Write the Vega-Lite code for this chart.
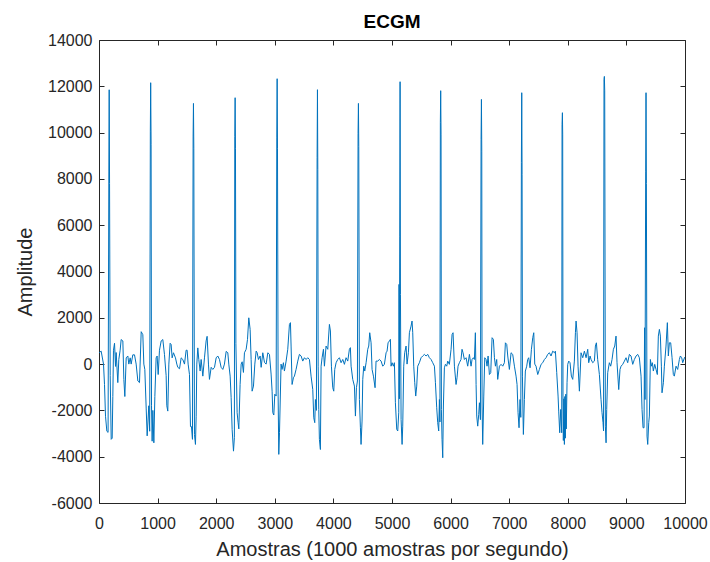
{
  "$schema": "https://vega.github.io/schema/vega-lite/v6.json",
  "width": 586,
  "height": 463,
  "autosize": {"type": "none"},
  "padding": {"left": 99, "top": 40, "right": 25, "bottom": 59},
  "background": "white",
  "title": {"text": "ECGM", "fontSize": 19, "fontWeight": "bold", "font": "Liberation Sans", "color": "#000000", "offset": 0},
  "config": {
    "view": {"stroke": null},
    "axis": {"grid": false, "domainColor": "#262626", "tickColor": "#262626", "labelColor": "#262626", "titleColor": "#262626", "labelFont": "Liberation Sans", "titleFont": "Liberation Sans", "labelFontSize": 16, "titleFontSize": 20, "titleFontWeight": "normal", "tickSize": -5, "domainWidth": 1, "tickWidth": 1, "labelFlush": false}
  },
  "data": {"values": [
    {"s":0,"v":490},{"s":37,"v":560},{"s":77,"v":0},{"s":94,"v":-880},{"s":111,"v":-2250},{"s":134,"v":-2900},{"s":155,"v":-2950},{"s":168,"v":8340},{"s":174,"v":11850},{"s":180,"v":7800},{"s":191,"v":-500},{"s":208,"v":-3250},{"s":225,"v":-3200},{"s":236,"v":-1400},{"s":247,"v":600},{"s":265,"v":900},{"s":282,"v":-100},{"s":293,"v":500},{"s":321,"v":-800},{"s":338,"v":200},{"s":361,"v":600},{"s":378,"v":1060},{"s":407,"v":1000},{"s":424,"v":-660},{"s":441,"v":-1400},{"s":464,"v":270},{"s":492,"v":350},{"s":509,"v":0},{"s":532,"v":270},{"s":549,"v":0},{"s":577,"v":400},{"s":606,"v":400},{"s":634,"v":0},{"s":663,"v":-730},{"s":691,"v":-800},{"s":720,"v":1400},{"s":748,"v":1270},{"s":765,"v":0},{"s":782,"v":-230},{"s":805,"v":-1900},{"s":822,"v":-3100},{"s":850,"v":-1800},{"s":865,"v":-2900},{"s":876,"v":10065},{"s":882,"v":12155},{"s":889,"v":9500},{"s":896,"v":-1800},{"s":907,"v":-3330},{"s":919,"v":-2000},{"s":936,"v":-3400},{"s":953,"v":-1400},{"s":975,"v":270},{"s":992,"v":350},{"s":1010,"v":-450},{"s":1032,"v":600},{"s":1061,"v":1000},{"s":1089,"v":1060},{"s":1117,"v":420},{"s":1146,"v":-500},{"s":1157,"v":-1800},{"s":1174,"v":-2030},{"s":1192,"v":0},{"s":1214,"v":900},{"s":1231,"v":850},{"s":1248,"v":270},{"s":1271,"v":490},{"s":1305,"v":270},{"s":1328,"v":0},{"s":1345,"v":-140},{"s":1374,"v":-200},{"s":1402,"v":270},{"s":1430,"v":200},{"s":1459,"v":0},{"s":1487,"v":600},{"s":1504,"v":600},{"s":1521,"v":0},{"s":1544,"v":-450},{"s":1561,"v":-2700},{"s":1578,"v":-2700},{"s":1595,"v":-3250},{"s":1606,"v":9850},{"s":1612,"v":11261},{"s":1618,"v":9300},{"s":1629,"v":-3040},{"s":1646,"v":-3470},{"s":1658,"v":-2250},{"s":1669,"v":0},{"s":1686,"v":700},{"s":1703,"v":200},{"s":1726,"v":-300},{"s":1743,"v":200},{"s":1772,"v":-520},{"s":1800,"v":270},{"s":1828,"v":1000},{"s":1845,"v":1200},{"s":1868,"v":0},{"s":1885,"v":-660},{"s":1914,"v":-140},{"s":1942,"v":-230},{"s":1971,"v":-140},{"s":1999,"v":270},{"s":2027,"v":350},{"s":2056,"v":200},{"s":2084,"v":-140},{"s":2113,"v":-230},{"s":2141,"v":0},{"s":2170,"v":550},{"s":2198,"v":490},{"s":2215,"v":0},{"s":2238,"v":-520},{"s":2255,"v":-1450},{"s":2272,"v":-2820},{"s":2295,"v":-3760},{"s":2310,"v":-3180},{"s":2317,"v":9820},{"s":2323,"v":11507},{"s":2329,"v":9300},{"s":2336,"v":900},{"s":2357,"v":-2100},{"s":2374,"v":-2530},{"s":2386,"v":-2800},{"s":2408,"v":-880},{"s":2426,"v":0},{"s":2443,"v":100},{"s":2465,"v":-360},{"s":2482,"v":490},{"s":2511,"v":640},{"s":2534,"v":1060},{"s":2556,"v":2000},{"s":2579,"v":1500},{"s":2596,"v":200},{"s":2613,"v":-1170},{"s":2636,"v":-950},{"s":2659,"v":0},{"s":2682,"v":560},{"s":2699,"v":490},{"s":2721,"v":200},{"s":2750,"v":350},{"s":2767,"v":-140},{"s":2795,"v":490},{"s":2824,"v":70},{"s":2852,"v":0},{"s":2881,"v":490},{"s":2909,"v":420},{"s":2937,"v":-430},{"s":2954,"v":-1170},{"s":2966,"v":-2100},{"s":2983,"v":-2200},{"s":3000,"v":-1300},{"s":3023,"v":-1380},{"s":3034,"v":9806},{"s":3040,"v":12328},{"s":3046,"v":9300},{"s":3057,"v":-1380},{"s":3068,"v":-3900},{"s":3080,"v":-2960},{"s":3107,"v":0},{"s":3124,"v":-230},{"s":3147,"v":60},{"s":3164,"v":-300},{"s":3193,"v":130},{"s":3221,"v":640},{"s":3250,"v":1715},{"s":3267,"v":1790},{"s":3278,"v":780},{"s":3295,"v":-880},{"s":3318,"v":-590},{"s":3335,"v":-520},{"s":3363,"v":-230},{"s":3392,"v":130},{"s":3420,"v":420},{"s":3449,"v":350},{"s":3477,"v":130},{"s":3506,"v":275},{"s":3534,"v":200},{"s":3562,"v":275},{"s":3591,"v":200},{"s":3619,"v":-520},{"s":3648,"v":-1100},{"s":3665,"v":-2320},{"s":3682,"v":-2530},{"s":3693,"v":-1530},{"s":3710,"v":-2000},{"s":3722,"v":8916},{"s":3728,"v":11853},{"s":3734,"v":8400},{"s":3740,"v":-90},{"s":3750,"v":-1960},{"s":3761,"v":-3250},{"s":3778,"v":-3690},{"s":3790,"v":-90},{"s":3807,"v":275},{"s":3830,"v":640},{"s":3847,"v":-90},{"s":3875,"v":780},{"s":3904,"v":640},{"s":3932,"v":1715},{"s":3949,"v":1430},{"s":3966,"v":-90},{"s":3989,"v":-1020},{"s":4006,"v":-1170},{"s":4023,"v":-230},{"s":4046,"v":60},{"s":4074,"v":200},{"s":4103,"v":275},{"s":4131,"v":60},{"s":4160,"v":200},{"s":4188,"v":-10},{"s":4216,"v":275},{"s":4245,"v":130},{"s":4273,"v":640},{"s":4290,"v":710},{"s":4302,"v":-90},{"s":4330,"v":-660},{"s":4359,"v":-950},{"s":4376,"v":-2245},{"s":4393,"v":-1020},{"s":4410,"v":-730},{"s":4421,"v":9965},{"s":4427,"v":11261},{"s":4433,"v":9400},{"s":4444,"v":-1530},{"s":4461,"v":-2750},{"s":4472,"v":-3470},{"s":4489,"v":-2460},{"s":4501,"v":-660},{"s":4518,"v":-90},{"s":4535,"v":-300},{"s":4558,"v":60},{"s":4586,"v":640},{"s":4603,"v":780},{"s":4620,"v":1355},{"s":4643,"v":920},{"s":4660,"v":-230},{"s":4683,"v":-520},{"s":4711,"v":-1020},{"s":4728,"v":130},{"s":4757,"v":130},{"s":4785,"v":200},{"s":4814,"v":130},{"s":4842,"v":-90},{"s":4870,"v":-10},{"s":4899,"v":490},{"s":4916,"v":560},{"s":4933,"v":920},{"s":4956,"v":1000},{"s":4973,"v":1070},{"s":4984,"v":-90},{"s":5001,"v":60},{"s":5024,"v":-90},{"s":5041,"v":60},{"s":5058,"v":-1670},{"s":5081,"v":-2820},{"s":5098,"v":-2890},{"s":5115,"v":-2100},{"s":5120,"v":3443},{"s":5126,"v":-1500},{"s":5132,"v":5529},{"s":5138,"v":12198},{"s":5144,"v":3000},{"s":5155,"v":-2390},{"s":5172,"v":-3470},{"s":5183,"v":-2680},{"s":5200,"v":-90},{"s":5217,"v":490},{"s":5240,"v":780},{"s":5257,"v":0},{"s":5280,"v":490},{"s":5297,"v":1355},{"s":5325,"v":1640},{"s":5342,"v":1860},{"s":5354,"v":1355},{"s":5371,"v":-90},{"s":5388,"v":-805},{"s":5405,"v":-1380},{"s":5422,"v":-950},{"s":5439,"v":-90},{"s":5467,"v":60},{"s":5496,"v":275},{"s":5524,"v":350},{"s":5553,"v":420},{"s":5581,"v":350},{"s":5610,"v":420},{"s":5638,"v":275},{"s":5667,"v":200},{"s":5695,"v":60},{"s":5724,"v":-90},{"s":5741,"v":-805},{"s":5763,"v":-1885},{"s":5780,"v":-2530},{"s":5797,"v":-2890},{"s":5809,"v":-1530},{"s":5818,"v":-2500},{"s":5825,"v":10427},{"s":5831,"v":11810},{"s":5837,"v":9900},{"s":5843,"v":-1960},{"s":5854,"v":-3250},{"s":5866,"v":-4045},{"s":5877,"v":-1810},{"s":5894,"v":-160},{"s":5911,"v":-10},{"s":5934,"v":-90},{"s":5951,"v":130},{"s":5979,"v":-10},{"s":6008,"v":640},{"s":6025,"v":1280},{"s":6042,"v":1355},{"s":6065,"v":-90},{"s":6093,"v":-880},{"s":6110,"v":-590},{"s":6127,"v":-90},{"s":6150,"v":60},{"s":6178,"v":200},{"s":6195,"v":640},{"s":6212,"v":490},{"s":6235,"v":200},{"s":6264,"v":275},{"s":6292,"v":-90},{"s":6321,"v":420},{"s":6349,"v":-90},{"s":6366,"v":200},{"s":6389,"v":275},{"s":6406,"v":200},{"s":6423,"v":1355},{"s":6435,"v":-880},{"s":6446,"v":-2245},{"s":6463,"v":-2680},{"s":6480,"v":-2170},{"s":6492,"v":-1670},{"s":6509,"v":-2400},{"s":6520,"v":9698},{"s":6526,"v":11434},{"s":6532,"v":9200},{"s":6537,"v":-1810},{"s":6548,"v":-3470},{"s":6566,"v":-1380},{"s":6583,"v":275},{"s":6605,"v":200},{"s":6622,"v":-90},{"s":6640,"v":350},{"s":6662,"v":-450},{"s":6685,"v":-370},{"s":6708,"v":1140},{"s":6730,"v":1070},{"s":6748,"v":275},{"s":6765,"v":-90},{"s":6787,"v":200},{"s":6804,"v":-660},{"s":6833,"v":-90},{"s":6861,"v":-10},{"s":6890,"v":-90},{"s":6918,"v":60},{"s":6935,"v":920},{"s":6958,"v":850},{"s":6975,"v":350},{"s":7003,"v":-230},{"s":7032,"v":490},{"s":7060,"v":420},{"s":7089,"v":-90},{"s":7117,"v":-520},{"s":7134,"v":-880},{"s":7151,"v":-2100},{"s":7168,"v":-2750},{"s":7185,"v":-1530},{"s":7198,"v":-2300},{"s":7208,"v":8700},{"s":7214,"v":11723},{"s":7220,"v":8200},{"s":7226,"v":-520},{"s":7236,"v":-2245},{"s":7242,"v":-3040},{"s":7259,"v":-1530},{"s":7276,"v":-300},{"s":7299,"v":-90},{"s":7316,"v":200},{"s":7333,"v":275},{"s":7356,"v":-160},{"s":7379,"v":640},{"s":7402,"v":1140},{"s":7419,"v":1355},{"s":7436,"v":0},{"s":7458,"v":-90},{"s":7487,"v":-450},{"s":7515,"v":-230},{"s":7544,"v":-10},{"s":7572,"v":60},{"s":7601,"v":200},{"s":7629,"v":275},{"s":7657,"v":420},{"s":7686,"v":490},{"s":7714,"v":350},{"s":7743,"v":560},{"s":7771,"v":490},{"s":7788,"v":560},{"s":7811,"v":-370},{"s":7834,"v":-1380},{"s":7845,"v":-2030},{"s":7862,"v":-2965},{"s":7879,"v":-1960},{"s":7896,"v":-2965},{"s":7902,"v":10354},{"s":7908,"v":10860},{"s":7913,"v":9900},{"s":7918,"v":-1380},{"s":7924,"v":-3300},{"s":7932,"v":-1500},{"s":7942,"v":-3470},{"s":7950,"v":-1400},{"s":7958,"v":-3200},{"s":7966,"v":-1300},{"s":7974,"v":-2800},{"s":7987,"v":-805},{"s":7999,"v":-10},{"s":8016,"v":130},{"s":8038,"v":60},{"s":8061,"v":-520},{"s":8084,"v":-660},{"s":8112,"v":130},{"s":8130,"v":1355},{"s":8141,"v":1860},{"s":8158,"v":1355},{"s":8175,"v":-90},{"s":8198,"v":-1170},{"s":8226,"v":490},{"s":8255,"v":275},{"s":8283,"v":560},{"s":8312,"v":275},{"s":8340,"v":640},{"s":8357,"v":60},{"s":8380,"v":350},{"s":8397,"v":200},{"s":8425,"v":60},{"s":8454,"v":130},{"s":8471,"v":780},{"s":8488,"v":920},{"s":8510,"v":200},{"s":8539,"v":-450},{"s":8567,"v":-1530},{"s":8584,"v":-2100},{"s":8601,"v":-2530},{"s":8610,"v":-2890},{"s":8618,"v":12290},{"s":8624,"v":12427},{"s":8630,"v":11800},{"s":8641,"v":-2680},{"s":8653,"v":-3400},{"s":8664,"v":-1960},{"s":8681,"v":-370},{"s":8709,"v":60},{"s":8732,"v":-90},{"s":8755,"v":200},{"s":8778,"v":640},{"s":8801,"v":780},{"s":8823,"v":1210},{"s":8840,"v":60},{"s":8869,"v":-1100},{"s":8891,"v":-230},{"s":8909,"v":-90},{"s":8937,"v":-10},{"s":8966,"v":130},{"s":8994,"v":275},{"s":9022,"v":60},{"s":9051,"v":420},{"s":9079,"v":350},{"s":9108,"v":-10},{"s":9136,"v":200},{"s":9165,"v":350},{"s":9193,"v":420},{"s":9221,"v":275},{"s":9250,"v":-520},{"s":9267,"v":-1960},{"s":9284,"v":-2750},{"s":9301,"v":-2750},{"s":9310,"v":1570},{"s":9318,"v":-1530},{"s":9329,"v":8337},{"s":9335,"v":11723},{"s":9341,"v":7800},{"s":9352,"v":-3110},{"s":9364,"v":-3470},{"s":9381,"v":-2530},{"s":9392,"v":-2245},{"s":9409,"v":200},{"s":9426,"v":-90},{"s":9443,"v":60},{"s":9460,"v":-300},{"s":9483,"v":-10},{"s":9506,"v":-230},{"s":9528,"v":-450},{"s":9545,"v":1210},{"s":9563,"v":1500},{"s":9580,"v":1210},{"s":9597,"v":-90},{"s":9608,"v":-1240},{"s":9631,"v":-805},{"s":9648,"v":-90},{"s":9676,"v":780},{"s":9699,"v":1790},{"s":9716,"v":350},{"s":9733,"v":920},{"s":9756,"v":920},{"s":9779,"v":275},{"s":9801,"v":-450},{"s":9818,"v":-520},{"s":9847,"v":-90},{"s":9875,"v":-230},{"s":9904,"v":200},{"s":9921,"v":350},{"s":9944,"v":275},{"s":9961,"v":60},{"s":9995,"v":300}
  ]},
  "layer": [
    {
      "mark": {"type": "line", "color": "#0072BD", "strokeWidth": 1},
      "encoding": {
        "x": {"field": "s", "type": "quantitative", "scale": {"domain": [0, 10000], "nice": false, "zero": false},
          "axis": {"values": [0,1000,2000,3000,4000,5000,6000,7000,8000,9000,10000], "format": "d", "title": "Amostras (1000 amostras por segundo)", "labelPadding": 17, "titlePadding": 8}},
        "y": {"field": "v", "type": "quantitative", "scale": {"domain": [-6000, 14000], "nice": false, "zero": false},
          "axis": {"values": [-6000,-4000,-2000,0,2000,4000,6000,8000,10000,12000,14000], "labelExpr": "datum.value < 0 ? '-' + abs(datum.value) : '' + datum.value", "title": "Amplitude", "labelPadding": 12, "titlePadding": 12}}
      }
    },
    {
      "mark": {"type": "line", "strokeOpacity": 0},
      "encoding": {
        "x": {"field": "s", "type": "quantitative", "scale": {"domain": [0, 10000], "nice": false, "zero": false},
          "axis": {"orient": "top", "values": [0,1000,2000,3000,4000,5000,6000,7000,8000,9000,10000], "labels": false, "title": null}},
        "y": {"field": "v", "type": "quantitative", "scale": {"domain": [-6000, 14000], "nice": false, "zero": false},
          "axis": {"orient": "right", "values": [-6000,-4000,-2000,0,2000,4000,6000,8000,10000,12000,14000], "labels": false, "title": null}}
      }
    }
  ],
  "resolve": {"axis": {"x": "independent", "y": "independent"}}
}
